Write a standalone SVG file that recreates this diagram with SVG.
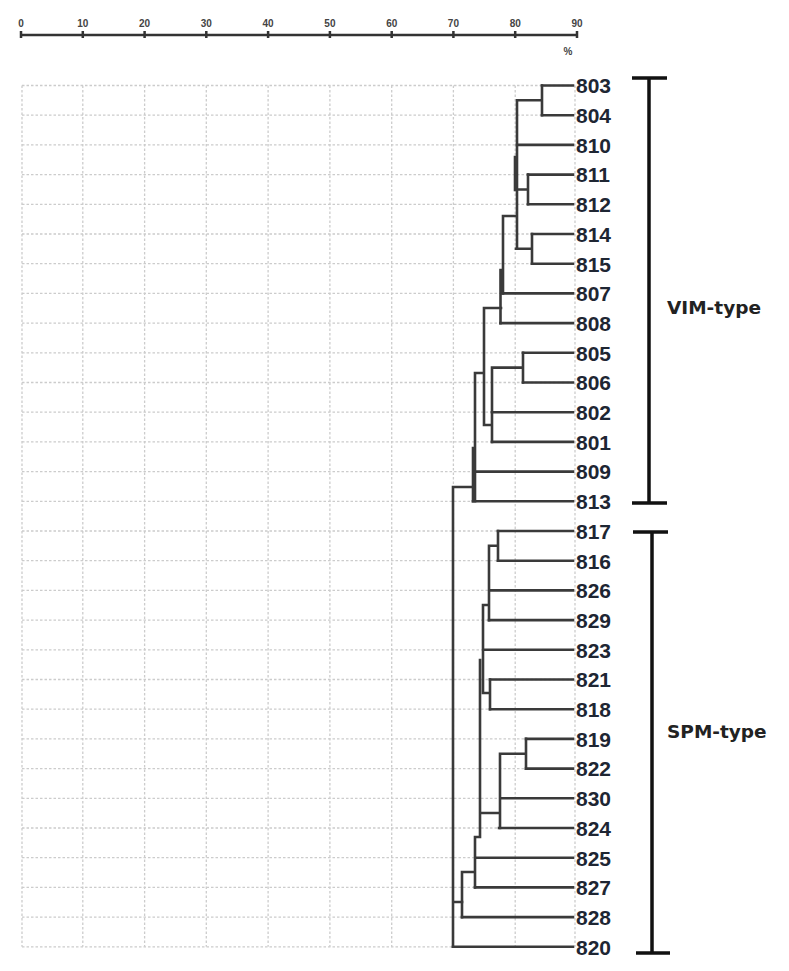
<svg xmlns="http://www.w3.org/2000/svg" width="789" height="971" viewBox="0 0 789 971">
<style>
.grid{stroke:#cccccc;stroke-width:1.3;stroke-dasharray:2.5 2;fill:none}
.axis{stroke:#333;stroke-width:2.5;fill:none}
.tick{font-family:"Liberation Sans",Arial,sans-serif;font-size:10px;font-weight:bold;fill:#444;text-anchor:middle}
.br{stroke:#111;stroke-width:3.5;fill:none}
.ln{stroke:#3a3a3a;stroke-width:2.6;fill:none;stroke-linecap:square}
.lbl{font-family:"Liberation Sans",Arial,sans-serif;font-size:21px;font-weight:bold;fill:#1e2633}
.grp{font-family:"DejaVu Sans",Verdana,sans-serif;font-size:18.5px;font-weight:bold;fill:#222}
</style>
<rect width="789" height="971" fill="#fff"/>
<g id="scale">
<line class="axis" x1="21" y1="35" x2="577" y2="35"/>
<path class="axis" stroke-width="1.6" d="M21 31V38M82.8 31V38M144.6 31V38M206.3 31V38M268.1 31V38M329.9 31V38M391.7 31V38M453.4 31V38M515.2 31V38M577 31V38"/>
<text class="tick" x="21" y="27">0</text>
<text class="tick" x="82.8" y="27">10</text>
<text class="tick" x="144.6" y="27">20</text>
<text class="tick" x="206.3" y="27">30</text>
<text class="tick" x="268.1" y="27">40</text>
<text class="tick" x="329.9" y="27">50</text>
<text class="tick" x="391.7" y="27">60</text>
<text class="tick" x="453.4" y="27">70</text>
<text class="tick" x="515.2" y="27">80</text>
<text class="tick" x="577" y="27">90</text>
<text class="tick" x="568" y="55">%</text>
</g>
<g id="grid">
<path class="grid" d="M22 85.5V946.8M82.8 85.5V946.8M144.6 85.5V946.8M206.3 85.5V946.8M268.1 85.5V946.8M329.9 85.5V946.8M391.7 85.5V946.8M453.4 85.5V946.8M515.2 85.5V946.8M575 85.5V946.8"/>
<path class="grid" d="M22 85.5H573M22 115.2H573M22 144.9H573M22 174.6H573M22 204.3H573M22 234H573M22 263.7H573M22 293.4H573M22 323.1H573M22 352.8H573M22 382.5H573M22 412.2H573M22 441.9H573M22 471.6H573M22 501.3H573M22 531H573M22 560.7H573M22 590.4H573M22 620.1H573M22 649.8H573M22 679.5H573M22 709.2H573M22 738.9H573M22 768.6H573M22 798.3H573M22 828H573M22 857.7H573M22 887.4H573M22 917.1H573M22 946.8H573"/>
</g>
<g id="connectors">
<path class="ln" d="M542 85.5H573M542 115.2H573M517 144.9H573M528 174.6H573M528 204.3H573M532 234H573M532 263.7H573M503 293.4H573M500.5 323.1H573M523 352.8H573M523 382.5H573M492 412.2H573M492 441.9H573M476 471.6H573M473 501.3H573"/>
<path class="ln" d="M498 531H573M498 560.7H573M490 590.4H573M489 620.1H573M484 649.8H573M490 679.5H573M490 709.2H573M526 738.9H573M526 768.6H573M502 798.3H573M499 828H573M477 857.7H573M475 887.4H573M462 917.1H573M453 946.8H573"/>
<path class="ln" d="M542 85.5V115.2M517 100.3H542M528 174.6V204.3M515 189.5H528M532 234V263.7M516 248.8H532M517 100.3V248.8M515 157V190M505 216H516M503 216V293.4M500.5 270V323.1M485 308H501M484 308V425M476 373H484M523 352.8V382.5M492 367.6H523M492 367.6V441.9M484 425H492M475 373V501.3M473 448V501.3M454 487H473M453 487V946.8M453 902H462"/>
<path class="ln" d="M498 531V560.7M489 545.8H498M489 545.8V620.1M483 605H489M483 605V693M490 679.5V709.2M483 693H490M480 660V837M526 738.9V768.6M501 753.7H526M500 753.7V828M480 813H500M475 837H480M475 837V887.4M462 872H475M462 872V917.1"/>
</g>
<g id="labels">
<text class="lbl" x="576" y="93.3">803</text>
<text class="lbl" x="576" y="123">804</text>
<text class="lbl" x="576" y="152.7">810</text>
<text class="lbl" x="576" y="182.4">811</text>
<text class="lbl" x="576" y="212.1">812</text>
<text class="lbl" x="576" y="241.8">814</text>
<text class="lbl" x="576" y="271.5">815</text>
<text class="lbl" x="576" y="301.2">807</text>
<text class="lbl" x="576" y="330.9">808</text>
<text class="lbl" x="576" y="360.6">805</text>
<text class="lbl" x="576" y="390.3">806</text>
<text class="lbl" x="576" y="420">802</text>
<text class="lbl" x="576" y="449.7">801</text>
<text class="lbl" x="576" y="479.4">809</text>
<text class="lbl" x="576" y="509.1">813</text>
<text class="lbl" x="576" y="538.8">817</text>
<text class="lbl" x="576" y="568.5">816</text>
<text class="lbl" x="576" y="598.2">826</text>
<text class="lbl" x="576" y="627.9">829</text>
<text class="lbl" x="576" y="657.6">823</text>
<text class="lbl" x="576" y="687.3">821</text>
<text class="lbl" x="576" y="717">818</text>
<text class="lbl" x="576" y="746.7">819</text>
<text class="lbl" x="576" y="776.4">822</text>
<text class="lbl" x="576" y="806.1">830</text>
<text class="lbl" x="576" y="835.8">824</text>
<text class="lbl" x="576" y="865.5">825</text>
<text class="lbl" x="576" y="895.2">827</text>
<text class="lbl" x="576" y="924.9">828</text>
<text class="lbl" x="576" y="954.6">820</text>
</g>
<g id="vim-bracket">
<path class="br" d="M632 78H667M649 78V503M632 503H667"/>
<text class="grp" x="667" y="314">VIM-type</text>
</g>
<g id="spm-bracket">
<path class="br" d="M633 532H668M652 532V953M636 953H670"/>
<text class="grp" x="667" y="738">SPM-type</text>
</g>
</svg>
